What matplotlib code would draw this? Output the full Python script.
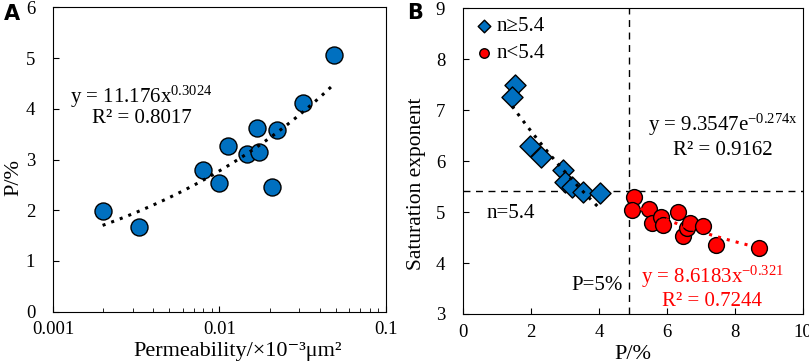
import numpy as np
import matplotlib
matplotlib.use("Agg")
import matplotlib.pyplot as plt
from matplotlib.ticker import LogLocator, NullFormatter, FixedLocator

plt.rcParams['font.family'] = ['Liberation Serif', 'DejaVu Serif']
plt.rcParams['mathtext.fontset'] = 'custom'
plt.rcParams['mathtext.rm'] = 'Liberation Serif'
plt.rcParams['mathtext.it'] = 'Liberation Serif'

# panel A: permeability vs P
perm = [0.00198, 0.0033, 0.00796, 0.00993, 0.0113, 0.0147, 0.0167, 0.0173, 0.0206, 0.0222, 0.0316, 0.0489]
p_a = [1.99, 1.66, 2.79, 2.54, 3.27, 3.10, 3.63, 3.14, 2.45, 3.59, 4.12, 5.06]
pow_a, pow_b = 11.176, 0.3024

# panel B: P vs saturation exponent
p_hi = [1.52, 1.44, 1.97, 2.28, 2.95, 3.01, 3.20, 3.52, 4.04]
n_hi = [7.50, 7.25, 6.29, 6.09, 5.83, 5.59, 5.49, 5.39, 5.38]
p_lo = [5.03, 4.98, 5.47, 5.56, 5.83, 5.87, 6.34, 6.48, 6.60, 6.67, 7.06, 7.44, 8.71]
n_lo = [5.29, 5.04, 5.07, 4.79, 4.91, 4.74, 5.01, 4.54, 4.68, 4.79, 4.73, 4.35, 4.30]
pow_c, pow_d = 8.6183, -0.321
n_cut, p_cut = 5.42, 4.87

blue = '#0070C0'
red = '#FF0000'

fig = plt.figure(figsize=(8.09, 3.63), dpi=100)
ax1 = fig.add_axes([53.3/809, 1-311.7/363, (385.7-53.3)/809, (311.7-7.3)/363])
ax2 = fig.add_axes([463.3/809, 1-314/363, (802.7-463.3)/809, (314-8.3)/363])

# ---- A
xs = np.logspace(np.log10(min(perm)), np.log10(max(perm)), 100)
ax1.scatter(perm, p_a, s=150, c=blue, edgecolors='black', linewidths=1.0, zorder=2)
ax1.plot(xs, pow_a * xs**pow_b, ls=(0, (1, 2)), lw=2.2, color='black', zorder=3)
ax1.set_xscale('log')
ax1.set_xlim(0.001, 0.1)
ax1.set_ylim(0, 6)
ax1.xaxis.set_major_locator(FixedLocator([0.001, 0.01, 0.1]))
ax1.set_xticklabels(['0.001', '0.01', '0.1'])
ax1.xaxis.set_minor_locator(LogLocator(base=10, subs=np.arange(2, 10)))
ax1.xaxis.set_minor_formatter(NullFormatter())
ax1.tick_params(axis='both', direction='in', labelsize=13.5, length=4, top=False, right=False)
ax1.tick_params(axis='x', which='minor', direction='in', length=3, top=False)
ax1.tick_params(axis='x', pad=7)
ax1.tick_params(axis='y', pad=13)
ax1.set_xlabel('Permeability/×10⁻³μm²', fontsize=16, va='center')
ax1.xaxis.set_label_coords(0.555, -0.13)
ax1.set_ylabel('P/%', fontsize=16, va='center')
ax1.yaxis.set_label_coords(-0.12, 0.44)
ax1.text(0.0034, 4.24, 'y = 11.176x$^{0.3024}$', fontsize=15, ha='center', va='center')
ax1.text(0.0034, 3.8, 'R² = 0.8017', fontsize=15, ha='center', va='center')
fig.text(4/809, 1-14/363, 'A', fontsize=15, fontweight='bold', family='DejaVu Sans', va='center')

# ---- B
coef = np.polyfit(p_hi, np.log(n_hi), 1)
xb = np.linspace(min(p_hi), max(p_hi), 100)
xr = np.linspace(min(p_lo), max(p_lo), 100)
ax2.axhline(n_cut, color='black', ls=(0, (5, 4)), lw=1.0, zorder=1)
ax2.axvline(p_cut, color='black', ls=(0, (5, 4)), lw=1.0, zorder=1)
ax2.scatter(p_hi, n_hi, s=115, marker='D', c=blue, edgecolors='black', linewidths=1.0, zorder=2, label='n≥5.4')
ax2.scatter(p_lo, n_lo, s=130, marker='o', c=red, edgecolors='black', linewidths=1.0, zorder=2, label='n<5.4')
ax2.plot(xb, np.exp(np.polyval(coef, xb)), ls=(0, (1, 2)), lw=2.2, color='black', zorder=3)
ax2.plot(xr, pow_c * xr**pow_d, ls=(0, (1, 2)), lw=2.2, color=red, zorder=3)
ax2.set_xlim(0, 10)
ax2.set_ylim(3, 9)
ax2.set_xticks([0, 2, 4, 6, 8, 10])
ax2.set_yticks([3, 4, 5, 6, 7, 8, 9])
ax2.tick_params(axis='both', direction='in', labelsize=13.5, length=4, top=False, right=False)
ax2.tick_params(axis='x', pad=7)
ax2.tick_params(axis='y', pad=13)
ax2.set_xlabel('P/%', fontsize=16, va='center')
ax2.xaxis.set_label_coords(0.5, -0.134)
ax2.set_ylabel('Saturation exponent', fontsize=15.5, va='center')
ax2.yaxis.set_label_coords(-0.139, 0.425)
ax2.text(7.64, 6.72, 'y = 9.3547e$^{-0.274x}$', fontsize=15, ha='center', va='center')
ax2.text(7.64, 6.2, 'R² = 0.9162', fontsize=15, ha='center', va='center')
ax2.text(7.34, 3.73, 'y = 8.6183x$^{-0.321}$', fontsize=15, ha='center', va='center', color=red)
ax2.text(7.34, 3.25, 'R² = 0.7244', fontsize=15, ha='center', va='center', color=red)
ax2.text(1.39, 4.98, 'n=5.4', fontsize=15, ha='center', va='center')
ax2.text(3.95, 3.55, 'P=5%', fontsize=15, ha='center', va='center')
leg = ax2.legend(loc='upper left', frameon=False, fontsize=15, handletextpad=0.0,
                 borderaxespad=0.3, borderpad=0.1, labelspacing=0.35, markerscale=0.6,
                 handlelength=1.2)
fig.text(407/809, 1-13/363, 'B', fontsize=15, fontweight='bold', family='DejaVu Sans', va='center')

fig.savefig('out.png', dpi=100)
